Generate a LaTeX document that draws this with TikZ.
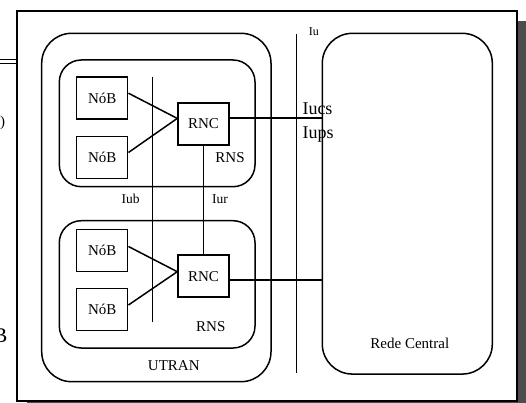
\documentclass[tikz,border=0pt]{standalone}
\usepackage{fontspec}
\setmainfont{Liberation Serif}
\begin{document}
\begin{tikzpicture}[x=1pt,y=-1pt,
  box/.style={draw,line width=1.5pt,minimum width=51pt,minimum height=42pt,inner sep=0pt,font=\fontsize{15}{18}\selectfont},
  zone/.style={draw,line width=1.5pt,inner sep=0pt},
  conn/.style={line width=1.5pt},
  lbl/.style={inner sep=0pt,anchor=base,font=\fontsize{15}{18}\selectfont}]
\useasboundingbox (0,0) rectangle (526,403);
\clip (0,0) rectangle (526,403);
% shadow and frame
\fill[black!70] (27,21) rectangle (540,420);
% fragments of the slide behind
\coordinate (d1) at (0,59.5);
\coordinate (d2) at (0,63.5);
\node[inner sep=0pt,anchor=base west,font=\fontsize{15}{18}\selectfont] (frag1) at (0,127) {)};
\node[inner sep=0pt,anchor=base west,font=\fontsize{21}{24}\selectfont] (frag2) at (-6.7,342) {B};
\node[draw,fill=white,line width=2pt,minimum width=500pt,minimum height=390pt,inner sep=0pt] (frame) at (267,206) {};
\draw[line width=1pt] (d1) -- (d1 -| frame.west);
\draw[line width=1pt] (d2) -- (d2 -| frame.west);
% zones
\node[zone,rounded corners=30pt,minimum width=229.3pt,minimum height=348.4pt] (utran) at (156.35,207.5) {};
\node[zone,rounded corners=22pt,minimum width=195.7pt,minimum height=126.7pt] (rns1) at (157.15,123.35) {};
\node[zone,rounded corners=22pt,minimum width=195.7pt,minimum height=127.3pt] (rns2) at (157.15,284.35) {};
\node[zone,rounded corners=30pt,minimum width=170pt,minimum height=340.7pt] (rc) at (407.3,203.7) {};
% boxes
\node[box] (nob1) at (102.2,98.2) {NóB};
\node[box] (nob2) at (102.2,157.5) {NóB};
\node[box] (rnc1) at (203.5,123.9) {RNC};
\node[box] (nob3) at (102.2,250.5) {NóB};
\node[box] (nob4) at (102.2,309.5) {NóB};
\node[box] (rnc2) at (203.5,276.2) {RNC};
% interface lines
\coordinate (iubtop) at (152.7,77);
\coordinate (iubbot) at (152.7,322);
\coordinate (iutop) at (296.7,34.3);
\coordinate (iubot) at (296.7,373.3);
\draw[conn] (iubtop) -- (iubbot);
\draw[conn] (iutop) -- (iubot);
\draw[conn] (rnc1.south) -- (rnc2.north);
% connectors
\draw[conn] ([yshift=5pt]nob1.east) -- ([yshift=5.5pt]rnc1.west);
\draw[conn] ([yshift=5pt]nob2.east) -- ([yshift=5.5pt]rnc1.west);
\draw[conn] ([yshift=4pt]nob3.east) -- ([yshift=4.5pt]rnc2.west);
\draw[conn] ([yshift=4.5pt]nob4.east) -- ([yshift=4.5pt]rnc2.west);
\draw[conn] ([yshift=6pt]rnc1.east) -- ([yshift=6pt]rnc1.east -| rc.west);
\draw[conn] ([yshift=-4pt]rnc2.east) -- ([yshift=-4pt]rnc2.east -| rc.west);
% labels
\node[lbl] (lrns1) at (230,162.3) {RNS};
\node[lbl] (lrns2) at (210.8,331.7) {RNS};
\node[lbl,font=\fontsize{13.5}{16}\selectfont] (liub) at (130.5,203.3) {Iub};
\node[lbl,font=\fontsize{13.5}{16}\selectfont] (liur) at (220,203.3) {Iur};
\node[lbl] (lutran) at (173.8,370) {UTRAN};
\node[lbl] (lrc) at (409.8,348.3) {Rede Central};
\node[lbl,anchor=base west,font=\fontsize{12}{14}\selectfont] (liu) at (308.7,36) {Iu};
\node[lbl,anchor=base west,font=\fontsize{18}{21}\selectfont] (liucs) at (302.3,115) {Iucs};
\node[lbl,anchor=base west,font=\fontsize{18}{21}\selectfont] (liups) at (302.3,138.3) {Iups};
\end{tikzpicture}
\end{document}
